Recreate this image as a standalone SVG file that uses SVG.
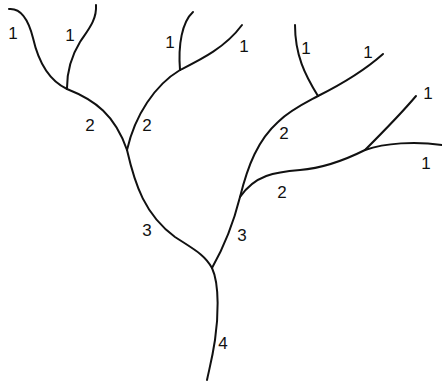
<svg xmlns="http://www.w3.org/2000/svg" width="442" height="384" viewBox="0 0 442 384">
<style>
.s{fill:none;stroke:#111;stroke-width:2;stroke-linecap:round;stroke-linejoin:round}
.t{font-family:"Liberation Sans",Arial,sans-serif;font-size:17px;fill:#111;text-anchor:middle;dominant-baseline:central}
</style>
<rect width="442" height="384" fill="#fff"/>
<g id="streams">
<path class="s" d="M9,9 C20,8 28,18 33,38 C38,60 48,80 67,89"/>
<path class="s" d="M96,5 C97,20 88,30 80,42 C72,55 67,70 67,88"/>
<path class="s" d="M67,89 C95,100 115,115 127,150"/>
<path class="s" d="M193,12 C182,22 178,45 180,70"/>
<path class="s" d="M180,70 C200,60 225,48 242,25"/>
<path class="s" d="M180,70 C155,85 135,115 127,150"/>
<path class="s" d="M127,150 C135,185 145,215 175,237 C195,250 205,255 212,268"/>
<path class="s" d="M212,268 C220,285 218,320 215,340 C212,360 209,370 207,380"/>
<path class="s" d="M212,268 C225,245 233,225 240,197"/>
<path class="s" d="M240,197 C248,165 258,140 278,122 C290,110 305,103 318,96"/>
<path class="s" d="M318,96 C305,75 295,55 295,25"/>
<path class="s" d="M318,96 C340,85 365,70 383,54"/>
<path class="s" d="M240,197 C255,175 275,172 300,170 C325,168 345,160 365,150"/>
<path class="s" d="M365,150 C380,135 400,115 416,96"/>
<path class="s" d="M365,150 C385,143 415,141 442,145"/>
</g>
<g id="labels">
<text class="t" x="13" y="33">1</text>
<text class="t" x="70" y="35">1</text>
<text class="t" x="90" y="125">2</text>
<text class="t" x="147" y="125">2</text>
<text class="t" x="170" y="42">1</text>
<text class="t" x="244" y="46">1</text>
<text class="t" x="306" y="48">1</text>
<text class="t" x="368" y="52">1</text>
<text class="t" x="428" y="93">1</text>
<text class="t" x="426" y="163">1</text>
<text class="t" x="284" y="133">2</text>
<text class="t" x="282" y="192">2</text>
<text class="t" x="147" y="230">3</text>
<text class="t" x="242" y="235">3</text>
<text class="t" x="223" y="343">4</text>
</g>
</svg>
